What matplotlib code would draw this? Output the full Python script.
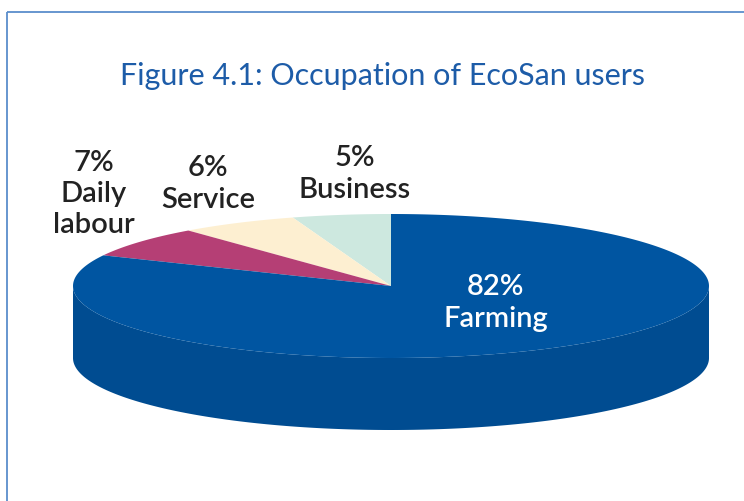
import numpy as np
import matplotlib.pyplot as plt
from matplotlib.patches import Polygon, Rectangle

# data
labels = ['Farming', 'Daily\nlabour', 'Service', 'Business']
shares = [82, 7, 6, 5]
top_colors = ['#0055a1', '#b53f75', '#fdefd1', '#cde8df']
side_color = '#004c91'
title = 'Figure 4.1: Occupation of EcoSan users'

W, H = 744, 502
fig = plt.figure(figsize=(W / 100, H / 100), dpi=100)
ax = fig.add_axes([0, 0, 1, 1])
ax.set_xlim(0, W)
ax.set_ylim(H, 0)
ax.axis('off')

# frame
ax.add_patch(Rectangle((7, 13), 760, 520, fill=False, ec='#5a8ecb', lw=1.3))

ax.text(382, 76, title, ha='center', va='center', fontsize=22,
        color='#1d5ca8', family='Lato')

# pie geometry (pixel space)
cx, cy = 391, 287
rx, ry = 318, 72
depth = 72

def pt(a, dy=0):
    return cx + rx * np.cos(a), cy - ry * np.sin(a) + dy

# side of the cylinder (front half, all farming)
a = np.linspace(np.pi, 2 * np.pi, 200)
xs, ys = pt(a)
xb, yb = pt(a[::-1], depth)
ax.add_patch(Polygon(np.column_stack([np.r_[xs, xb], np.r_[ys, yb]]),
                     fc=side_color, ec='none'))

# top face, counter-clockwise from 12 o'clock: Business, Service, Daily labour, Farming
fr = np.array(shares) / sum(shares)
start = np.pi / 2
for i in [3, 2, 1, 0]:
    end = start + fr[i] * 2 * np.pi
    a = np.linspace(start, end, 300)
    x, y = pt(a)
    ax.add_patch(Polygon(np.column_stack([np.r_[cx, x], np.r_[cy, y]]),
                         fc=top_colors[i], ec='none'))
    start = end

lab_kw = dict(ha='center', va='center', fontsize=21, family='Lato',
              fontweight='semibold', linespacing=1.25)
ax.text(496, 303, f'{shares[0]}%\n{labels[0]}', color='white', **lab_kw)
ax.text(94, 194, f'{shares[1]}%\n{labels[1]}', color='#222222', **lab_kw)
ax.text(208, 184, f'{shares[2]}%\n{labels[2]}', color='#222222', **lab_kw)
ax.text(355, 174, f'{shares[3]}%\n{labels[3]}', color='#222222', **lab_kw)

fig.savefig('out.png', dpi=100)
